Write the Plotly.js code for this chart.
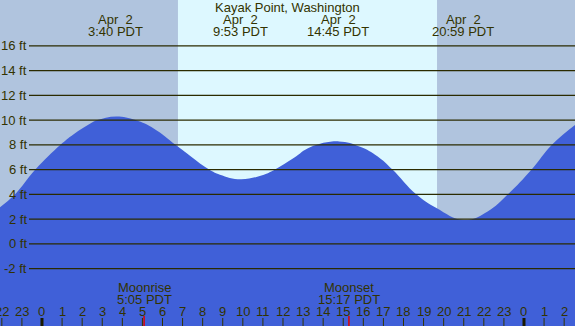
<!DOCTYPE html>
<html>
<head>
<meta charset="utf-8">
<script src="https://cdn.plot.ly/plotly-3.0.1.min.js"></script>
<style>html,body{margin:0;padding:0;background:#fff;} #chart{width:575px;height:326px;}</style>
</head>
<body>
<div id="chart"></div>
<script>
// Tide heights (ft) at given hours (relative to 0:00 Apr 2)
const tideHours   = [-2.09, -1.34, -0.33, 0.92, 1.56, 2.47, 2.75, 3.70, 4.66, 5.58, 6.65, 7.40, 8.32, 8.86, 9.90, 11.05, 11.60, 12.55, 13.35, 14.78, 15.84, 16.70, 17.45, 18.63, 19.64, 21.00, 22.19, 23.20, 24.38, 25.39, 26.54];
const tideHeights = [2.95, 4.0, 6.0, 8.0, 8.84, 9.78, 10.0, 10.3, 10.0, 9.30, 8.0, 7.08, 6.0, 5.59, 5.22, 5.59, 6.0, 6.95, 7.8, 8.28, 7.85, 7.08, 6.0, 4.0, 2.89, 1.92, 2.62, 4.0, 6.0, 8.0, 9.6];

// Extremes (high / low tides)
const extremeHours  = [3.667, 9.883, 14.75, 20.983];
const extremeDates  = ['Apr\u00a0 2', 'Apr\u00a0 2', 'Apr\u00a0 2', 'Apr\u00a0 2'];
const extremeLabels = ['3:40 PDT', '9:53 PDT', '14:45 PDT', '20:59 PDT'];

// Sun
const sunrise = 6.77;
const sunset  = 19.67;

// Moon
const moonHours  = [5.083, 15.283];
const moonNames  = ['Moonrise', 'Moonset'];
const moonLabels = ['5:05 PDT', '15:17 PDT'];

// Axes
const heightTicks = [-2, 0, 2, 4, 6, 8, 10, 12, 14, 16];
const hourTicks = [-2,-1,0,1,2,3,4,5,6,7,8,9,10,11,12,13,14,15,16,17,18,19,20,21,22,23,24,25,26];

const title = 'Kayak Point, Washington';

const W = 575, H = 326;
const xRange = [-2.091, 26.54];
const yRange = [-6.645, 19.71];
const txt = '#333300';
const FONT = 'Liberation Sans, Arial, sans-serif';
const py = px => 1 - px / H;

const traces = [
  {x: [xRange[0]-1, xRange[1]+1], y: [-20, -20], mode: 'lines', line: {width: 0}, hoverinfo: 'skip', showlegend: false},
  {x: tideHours, y: tideHeights, mode: 'lines', line: {shape: 'spline', smoothing: 1.2, width: 0, color: '#4060d8'},
   fill: 'tonexty', fillcolor: '#4060d8', hoverinfo: 'skip', showlegend: false}
];

const shapes = [];
shapes.push({type: 'rect', xref: 'x', yref: 'paper', x0: sunrise, x1: sunset, y0: 0, y1: 1,
  fillcolor: '#ddf8ff', line: {width: 0}, layer: 'below'});
heightTicks.forEach(v => shapes.push({type: 'line', xref: 'paper', yref: 'y', x0: 29/W, x1: 1, y0: v, y1: v,
  line: {color: '#2b2b00', width: 1.2}, layer: 'above'}));
hourTicks.forEach(h => {
  const mid = ((h % 24) + 24) % 24 === 0;
  shapes.push({type: 'line', xref: 'x', yref: 'paper', x0: h, x1: h, y0: 0, y1: py(318),
    line: {color: mid ? '#1a1a00' : '#333300', width: mid ? 3 : 1}, layer: 'above'});
});
moonHours.forEach(h => shapes.push({type: 'line', xref: 'x', yref: 'paper', x0: h, x1: h, y0: 0, y1: py(316),
  line: {color: '#e00000', width: 1.5}, layer: 'above'}));

const ann = [];
const f = {family: FONT, size: 13, color: txt};
ann.push({text: title, xref: 'paper', yref: 'paper', x: 287/W, y: py(7.5), xanchor: 'center', yanchor: 'middle', showarrow: false, font: f});
extremeHours.forEach((h, i) => {
  ann.push({text: extremeDates[i], xref: 'x', yref: 'paper', x: h, y: py(19.5), xanchor: 'center', yanchor: 'middle', showarrow: false, font: f});
  ann.push({text: extremeLabels[i], xref: 'x', yref: 'paper', x: h, y: py(31.5), xanchor: 'center', yanchor: 'middle', showarrow: false, font: f});
});
moonHours.forEach((h, i) => {
  ann.push({text: moonNames[i], xref: 'x', yref: 'paper', x: h, y: py(287.5), xanchor: 'center', yanchor: 'middle', showarrow: false, font: f});
  ann.push({text: moonLabels[i], xref: 'x', yref: 'paper', x: h, y: py(299.5), xanchor: 'center', yanchor: 'middle', showarrow: false, font: f});
});
heightTicks.forEach(v => ann.push({text: v + ' ft', xref: 'paper', yref: 'y', x: 28/W, y: v, xanchor: 'right', yanchor: 'middle',
  showarrow: false, font: f, borderpad: 0}));
hourTicks.forEach(h => ann.push({text: String(((h % 24) + 24) % 24), xref: 'x', yref: 'paper', x: h, y: py(311.5),
  xanchor: 'center', yanchor: 'middle', showarrow: false, font: f, borderpad: 0}));

const layout = {
  width: W, height: H,
  margin: {l: 0, r: 0, t: 0, b: 0},
  paper_bgcolor: '#b0c4de', plot_bgcolor: 'rgba(0,0,0,0)',
  xaxis: {range: xRange, visible: false, fixedrange: true},
  yaxis: {range: yRange, visible: false, fixedrange: true},
  shapes: shapes, annotations: ann, showlegend: false
};
Plotly.newPlot('chart', traces, layout, {staticPlot: true, displayModeBar: false});
</script>
</body>
</html>
